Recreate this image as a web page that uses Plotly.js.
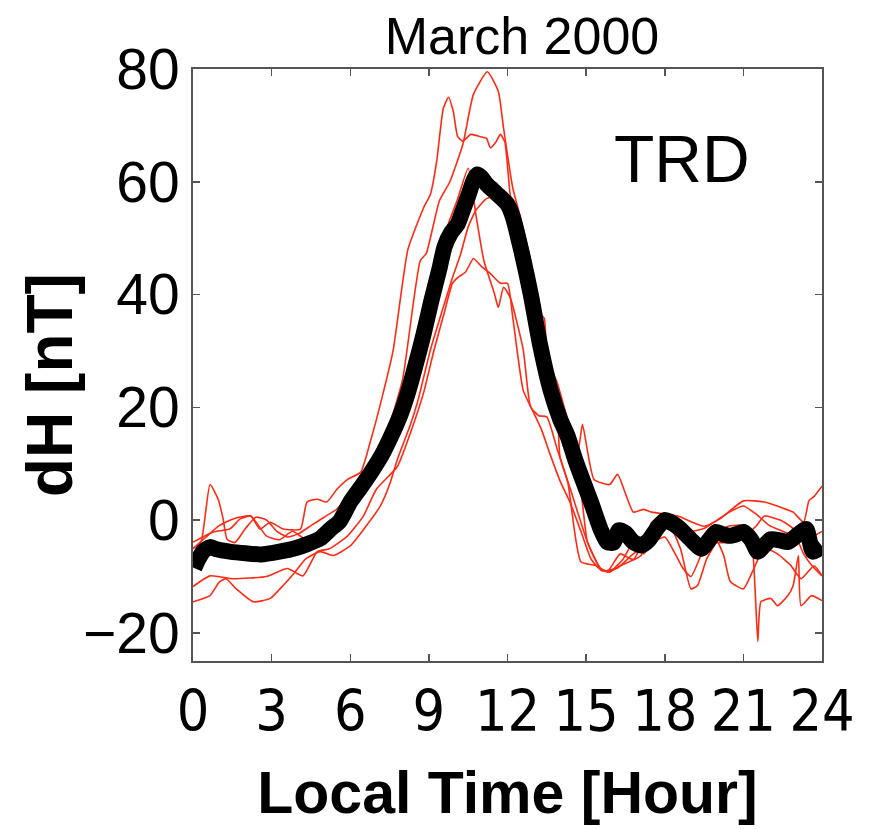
<!DOCTYPE html>
<html>
<head>
<meta charset="utf-8">
<script src="https://cdn.plot.ly/plotly-3.0.1.min.js"></script>
<style>html,body{margin:0;padding:0;background:#fff;}#chart{width:870px;height:829px;}</style>
</head>
<body>
<div id="chart"></div>
<script>
// ---- data ----
const chartTitle = "March 2000";
const stationLabel = "TRD";
const xTickVals = [0, 3, 6, 9, 12, 15, 18, 21, 24];
const yTickVals = [-20, 0, 20, 40, 60, 80];

// Mean curve (thick black)
const hoursMean = [0.05,0.2,0.4,0.65,0.9,1.4,2.0,2.6,3.3,3.9,4.4,4.85,5.25,5.6,6.0,6.4,6.8,7.2,7.55,7.9,8.2,8.55,8.8,9.1,9.4,9.6,9.85,10.1,10.3,10.5,10.7,10.85,11.0,11.2,11.45,11.75,12.0,12.2,12.5,12.88,13.26,13.64,14.0,14.3,14.6,14.9,15.2,15.55,15.8,16.05,16.25,16.5,16.8,17.1,17.4,17.7,18.0,18.2,18.6,19.0,19.4,19.7,19.95,20.2,20.5,20.8,21.0,21.3,21.55,21.8,22.05,22.4,22.7,23.1,23.4,23.65,24];
const dHMean = [-8.5,-7,-5.5,-4.8,-5.2,-5.6,-5.9,-6.1,-5.6,-5,-4.2,-3.3,-1.6,-0.2,3.2,5.8,8.5,11.5,14.8,18.5,22.6,28.5,33,39,44.5,48.5,51,52.5,55,57.5,60.2,61.3,60.8,59.6,58.5,57.2,56,53.8,48.3,40.2,30.7,23.1,18,14.8,10.5,6.7,3,-1.6,-3.9,-4,-1.8,-2.3,-3.9,-4.5,-3.5,-1.5,0,-0.3,-1.6,-3.5,-5.1,-3.5,-2.1,-2.5,-2.8,-2.4,-2.1,-3.5,-5.6,-4.5,-3.4,-3.6,-3.9,-2.5,-1.6,-5.6,-4.6];

// Individual days (thin red)
const hoursA = [0,0.77,1.4,1.8,2.2,2.56,2.95,3.44,4.1,4.35,4.74,5.1,5.5,5.9,6.4,6.76,7.26,7.64,8.2,8.8,9.06,9.3,9.55,9.75,9.93,10.1,10.3,10.6,10.97,11.2,11.35,11.55,11.73,11.9,12.1,12.5,12.9,13.3,13.65,14.0,14.4,14.8,15.05,15.55,15.9,16.3,17.1,17.5,18.0,18.6,19.0,19.25,19.6,20.0,20.25,20.5,21.0,21.4,21.8,22.3,22.8,23.2,23.7,24];
const dHA = [-3.9,-2.1,-1.6,0.2,0.7,-1.6,-0.4,-1.6,-1.6,3.2,3.7,3.2,5.5,7.2,8.5,13.8,22.6,30.2,48,55.4,57.8,63.7,73,75,72.5,68,67.2,68.4,68,67.7,66,67,68.4,67,57.8,48.3,40,31,23,18,11,5,-3.9,-8.6,-9.2,-8.1,-6.3,-0.4,0.7,-5.1,-12.2,-11.6,-6.9,-3.9,-6.3,-10.9,-12.2,-8.6,-5,-6,-8,-10.4,-8.1,-9.9];

const hoursB = [0,0.3,0.65,0.96,1.15,1.3,1.6,2.0,2.4,2.8,3.2,3.6,4.0,4.5,5.0,5.5,6.0,6.5,7.0,7.5,8.0,8.67,8.9,9.4,9.8,10.3,10.7,11.23,11.65,11.85,12.2,12.5,12.88,13.1,13.4,13.5,13.9,14.3,14.7,14.86,15.3,15.9,16.2,16.8,17.2,17.5,18.5,19.5,20.1,21.0,21.8,22.4,22.9,23.3,23.5,23.7,24];
const dHB = [-5,-4,6.3,3.7,0.2,-3.4,-4,-1.5,0.5,0,-2,-3,-2.5,-1,0.5,2,5,8.5,12,17,25,46,47.3,56.6,60,66.7,75.5,79.5,76,69.5,58.9,53.6,46,37.2,35.8,29,24.3,17.8,12.5,17,7.2,6.3,8.1,1.4,1.9,1.4,0.7,-1.1,0.2,3.4,3.2,2.3,1.4,-0.4,3.4,4.2,6];

const hoursC = [0,0.5,1.0,1.53,2.2,2.8,3.3,3.8,4.3,4.9,5.4,5.9,6.4,6.9,7.4,7.9,8.4,8.9,9.3,9.7,10.1,10.5,10.8,11.1,11.5,11.65,11.85,12.1,12.6,12.88,13.2,13.5,13.9,14.3,14.8,15.4,15.8,16.3,16.8,17.3,17.8,18.3,18.7,19.2,19.8,20.4,21.0,21.5,21.8,22.4,22.9,23.2,23.6,24];
const dHC = [-5.1,-3,-1,0.2,0.7,-2.8,-3.5,-2,-3.4,-2,-1,2,6,10,15,21,30,38,45,52,57,62.4,54,46,40.2,37.7,41.3,39.5,30.2,20.1,18.5,18.3,12.5,6.7,-7.4,-8.1,-9.2,-6,-7,-3,-1,-2,-3,-5,-4,-4,-3,-1,0.7,0,-1.5,-2.8,-3,-2];

const hoursD = [0,0.65,1.53,2.8,3.6,4.2,4.74,5.2,5.9,6.5,7.0,7.8,8.3,8.8,9.2,9.6,9.9,10.1,10.4,10.7,11.0,11.35,11.73,12.0,12.2,12.6,13.0,13.3,13.6,14.0,14.4,14.8,15.2,15.6,16.2,16.8,17.5,18.0,18.4,18.7,19.0,19.5,20.0,20.5,21.0,21.3,21.55,21.67,22.05,22.3,22.7,22.9,23.1,23.2,23.6,24];
const dHD = [-11.8,-9.9,-10.4,-10,-8.6,-9.9,-5.6,-5.1,-2.8,0.7,5.5,9.5,15.5,22.6,30.2,37,42,43,44,46.4,45,43.7,42,42,36,23,19,16,12,7,3,-2,-7,-9,-8.5,-6,-4,-3,-6,-8.6,-10,-5,-2,-1,-1,-3,-21.5,-14.5,-13.9,-15.2,-13.4,-11.6,-6.3,-15.2,-13.4,-14.3];

const hoursE = [0,0.65,1.0,1.26,1.65,2.3,2.95,3.44,3.9,4.3,4.85,5.35,6.0,6.6,7.15,7.53,7.8,8.3,8.56,9.06,9.5,9.9,10.2,10.5,10.8,11.2,11.6,12.0,12.3,12.6,12.9,13.2,13.6,13.9,14.0,14.4,15.05,15.55,15.9,16.4,16.8,17.2,17.6,18.0,18.5,19.0,19.5,20.0,20.5,21.0,21.5,22.0,22.5,23.0,23.3,23.6,24];
const dHE = [-14.5,-13.4,-11,-10.4,-12.2,-14.5,-13.9,-11.6,-9.2,-6.9,-5.6,-6.3,-4.6,-1.1,2.5,6.7,10.8,17,20.8,30.2,37,43,47,52,55,57,57.5,55,50,44,38,32,25,19.6,11.3,5.5,-3.9,-8.6,-9.2,-7,-4,-6,-3,-1,-1,-2,-1.5,0,1.5,2.5,1,-1,-2,-3,-6,-8,-9.9];

const redSeries = [
  {name: "day A", x: hoursA, y: dHA},
  {name: "day B", x: hoursB, y: dHB},
  {name: "day C", x: hoursC, y: dHC},
  {name: "day D", x: hoursD, y: dHD},
  {name: "day E", x: hoursE, y: dHE}
];

// ---- traces ----
const traces = redSeries.map(s => ({
  type: "scatter", mode: "lines", name: s.name, x: s.x, y: s.y,
  line: {color: "#ff2a14", width: 1.6, shape: "spline", smoothing: 0.5}, hoverinfo: "x+y"
}));
traces.push({
  type: "scatter", mode: "lines", name: "mean", x: hoursMean, y: dHMean,
  line: {color: "#000000", width: 16, shape: "spline", smoothing: 0.6}
});

const axisCommon = {
  showline: true, linecolor: "#555555", linewidth: 2, mirror: "ticks",
  ticks: "inside", ticklen: 7, tickwidth: 1.5, tickcolor: "#555555",
  showgrid: false, zeroline: false, fixedrange: true
};

const layout = {
  width: 870, height: 829,
  margin: {l: 193, r: 48, t: 69, b: 168},
  paper_bgcolor: "#ffffff", plot_bgcolor: "#ffffff",
  showlegend: false,
  title: {
    text: chartTitle, x: 0.6, xref: "container", xanchor: "center",
    y: 1 - 36 / 829, yref: "container", yanchor: "middle",
    font: {family: "Liberation Sans, Arial, sans-serif", size: 52, color: "#000"}
  },
  xaxis: Object.assign({}, axisCommon, {
    range: [0, 24], tickmode: "array", tickvals: xTickVals,
    ticktext: xTickVals.map(String),
    tickfont: {family: "DejaVu Sans Condensed, Arial Narrow, sans-serif", size: 57, color: "#000"},
    title: {text: "<b>Local Time [Hour]</b>", standoff: 28,
      font: {family: "Liberation Sans, Arial, sans-serif", size: 59, color: "#000"}}
  }),
  yaxis: Object.assign({}, axisCommon, {
    range: [-25, 80], tickmode: "array", tickvals: yTickVals,
    tickfont: {family: "Liberation Sans, Arial, sans-serif", size: 57, color: "#000"},
    title: {text: ""}
  }),
  annotations: [{
    text: stationLabel, xref: "paper", yref: "paper",
    x: (682 - 193) / 629, y: (661 - 159) / 592,
    xanchor: "center", yanchor: "middle", showarrow: false,
    font: {family: "Liberation Sans, Arial, sans-serif", size: 66, color: "#000"}
  }, {
    text: "<b>dH [nT]</b>", xref: "paper", yref: "paper", textangle: -90,
    x: (50 - 193) / 629, y: (661 - 385) / 592,
    xanchor: "center", yanchor: "middle", showarrow: false,
    font: {family: "Liberation Sans, Arial, sans-serif", size: 64, color: "#000"}
  }]
};

Plotly.newPlot("chart", traces, layout, {displayModeBar: false, staticPlot: true});
</script>
</body>
</html>
